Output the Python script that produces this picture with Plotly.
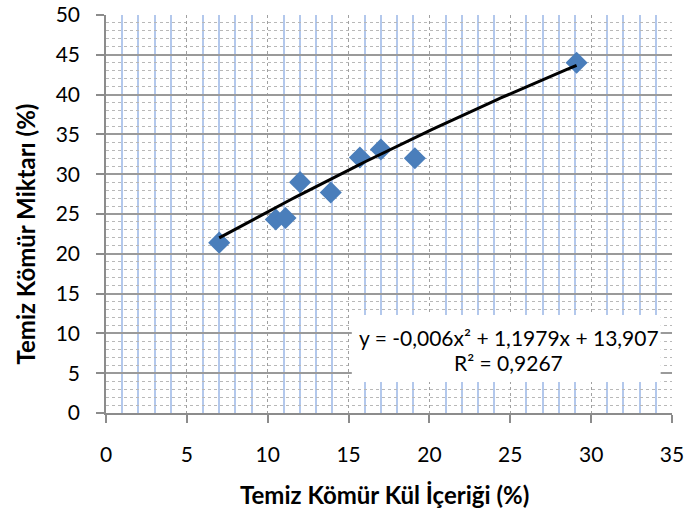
import numpy as np
import plotly.graph_objects as go

# Data
ash_content = [7.0, 10.5, 11.1, 12.0, 13.9, 15.7, 17.0, 19.1, 29.1]
clean_coal = [21.4, 24.3, 24.5, 29.0, 27.7, 32.1, 33.1, 32.0, 44.0]

# Trendline coefficients (as shown on chart)
coef_a, coef_b, coef_c = -0.006, 1.1979, 13.907
eq_text = "y = -0,006x² + 1,1979x + 13,907"
r2_text = "R² = 0,9267"

x_title = "Temiz Kömür Kül İçeriği (%)"
y_title = "Temiz Kömür Miktarı (%)"

FONT = "Lato"

xs = np.linspace(min(ash_content), max(ash_content), 100)
ys = coef_a * xs**2 + coef_b * xs + coef_c

fig = go.Figure()
fig.add_trace(go.Scatter(
    x=ash_content, y=clean_coal, mode="markers",
    marker=dict(symbol="diamond", size=17, color="#4a7ebb"),
    showlegend=False, cliponaxis=False,
))
fig.add_trace(go.Scatter(
    x=xs, y=ys, mode="lines",
    line=dict(color="black", width=3),
    showlegend=False,
))

# White box behind the equation label
fig.add_shape(type="rect", xref="x", yref="y", x0=15.2, x1=34.3, y0=3.9, y1=12.3,
              fillcolor="white", line=dict(width=0), layer="between")
fig.add_annotation(x=24.9, y=9.5, xref="x", yref="y", text=eq_text, showarrow=False,
                   font=dict(family=FONT, size=21, color="black"))
fig.add_annotation(x=24.9, y=6.3, xref="x", yref="y", text=r2_text, showarrow=False,
                   font=dict(family=FONT, size=21, color="black"))

# Axis titles
fig.add_annotation(x=0.4916, y=-0.206, xref="paper", yref="paper", text="<b>" + x_title + "</b>",
                   showarrow=False, font=dict(family=FONT, size=24, color="black"),
                   xanchor="center", yanchor="middle")
fig.add_annotation(x=-0.142, y=0.45, xref="paper", yref="paper", text="<b>" + y_title + "</b>",
                   showarrow=False, font=dict(family=FONT, size=24, color="black"),
                   textangle=-90, xanchor="center", yanchor="middle")

fig.update_layout(
    width=685, height=512,
    margin=dict(l=106, r=13, t=15, b=99),
    paper_bgcolor="white", plot_bgcolor="white",
    font=dict(family=FONT, size=21, color="black"),
    xaxis=dict(
        range=[0, 35], dtick=5, tick0=0, automargin=False,
        showgrid=True, gridcolor="#a0a0a0", griddash="dot", gridwidth=1,
        minor=dict(dtick=1, showgrid=True, gridcolor="#b3c8ec", gridwidth=2,
                   griddash="solid", ticks=""),
        showline=True, linecolor="#8c8c8c", linewidth=1.5,
        ticks="outside", ticklen=8, tickcolor="#8c8c8c", tickwidth=1.5,
        ticklabelstandoff=14, ticklabeloverflow="allow",
        zeroline=False,
        tickfont=dict(family=FONT, size=21),
    ),
    yaxis=dict(
        range=[0, 50], dtick=5, tick0=0, automargin=False,
        showgrid=True, gridcolor="#9a9a9a", gridwidth=1.5,
        minor=dict(dtick=1, showgrid=True, gridcolor="#b8b8b8", griddash="dot",
                   gridwidth=1, ticks=""),
        showline=True, linecolor="#8c8c8c", linewidth=1.5,
        ticks="outside", ticklen=8, tickcolor="#8c8c8c", tickwidth=1.5,
        ticklabelstandoff=12, ticklabeloverflow="allow",
        zeroline=False,
        tickfont=dict(family=FONT, size=21),
    ),
)

# remove the default 8px page margin so the figure fills the window exactly
fig.write_html("out.html", config={"displayModeBar": False},
               post_script="document.body.style.margin='0px';")
